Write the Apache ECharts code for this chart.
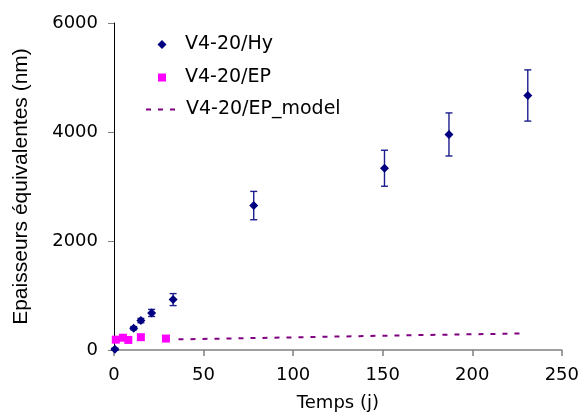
<!DOCTYPE html>
<html><head><meta charset="utf-8">
<script src="https://cdn.jsdelivr.net/npm/echarts@6/dist/echarts.min.js"></script>
<style>html,body{margin:0;padding:0;background:#fff}#c{width:582px;height:417px}</style>
</head><body><div id="c"></div>
<script>
const hyDays = [0.5, 11, 15, 21, 33, 78, 151, 187, 231];
const hyValues = [15, 400, 540, 680, 925, 2650, 3335, 3955, 4670];
const hyErrors = [20, 30, 40, 65, 110, 260, 330, 395, 470];
const epDays = [1, 5, 8, 15, 29];
const epValues = [190, 225, 185, 235, 210];
const modelDays = [36, 100, 160, 230];
const modelValues = [195, 232, 268, 304];
const xTicks = [0, 50, 100, 150, 200, 250];
const yTicks = [0, 2000, 4000, 6000];
const names = ['V4-20/Hy', 'V4-20/EP', 'V4-20/EP_model'];

const NAVY = '#000080', MAG = '#ff00ff', PURP = '#800080';
const F = 'DejaVu Sans';
const chart = echarts.init(document.getElementById('c'), null, {renderer: 'canvas'});
const legendText = (pad) => ({fontFamily: F, fontSize: 19, color: '#000', padding: [0, 0, 0, pad]});
chart.setOption({
  animation: false,
  backgroundColor: '#fff',
  grid: {left: 114, right: 18, top: 23, bottom: 64.3},
  xAxis: {
    type: 'value', min: xTicks[0], max: xTicks[xTicks.length - 1], interval: 50,
    name: 'Temps (j)', nameLocation: 'middle', nameGap: 44,
    nameTextStyle: {fontFamily: F, fontSize: 18, color: '#000'},
    axisLine: {show: true, onZero: false, lineStyle: {color: '#808080', width: 1.5}},
    axisTick: {show: true, inside: false, length: 6, lineStyle: {color: '#808080', width: 1.5}},
    axisLabel: {margin: 16, fontFamily: F, fontSize: 18, color: '#000', formatter: v => String(v)},
    splitLine: {show: false}
  },
  yAxis: {
    type: 'value', min: yTicks[0], max: yTicks[yTicks.length - 1], interval: 2000,
    name: 'Epaisseurs équivalentes (nm)', nameLocation: 'middle', nameGap: 82, nameRotate: 90,
    nameTextStyle: {fontFamily: 'Liberation Sans', fontSize: 21, color: '#000'},
    axisLine: {show: true, onZero: false, lineStyle: {color: '#000', width: 1}},
    axisTick: {show: true, inside: false, length: 6, lineStyle: {color: '#808080', width: 1}},
    axisLabel: {margin: 16, fontFamily: F, fontSize: 18, color: '#000', formatter: v => String(v)},
    splitLine: {show: false}
  },
  legend: [
    {data: [{name: names[0], icon: 'diamond'}], left: 157.5, top: 35, padding: 0, itemWidth: 9, itemHeight: 9,
     textStyle: legendText(13.5), selectedMode: false},
    {data: [{name: names[1], icon: 'rect'}], left: 158, top: 68, padding: 0, itemWidth: 8, itemHeight: 8,
     textStyle: legendText(14), selectedMode: false},
    {data: [{name: names[2], itemStyle: {color: 'rgba(0,0,0,0)', borderWidth: 0}}], left: 145, top: 100, padding: 0,
     itemWidth: 31, itemHeight: 10, textStyle: legendText(4), selectedMode: false}
  ],
  series: [
    {
      type: 'custom', name: 'err', silent: true, z: 1,
      data: hyDays.map((d, i) => [d, hyValues[i] - hyErrors[i], hyValues[i] + hyErrors[i]]),
      encode: {x: 0, y: [1, 2]},
      renderItem: (params, api) => {
        const x = api.value(0);
        const lo = api.coord([x, api.value(1)]);
        const hi = api.coord([x, api.value(2)]);
        const w = 3.5;
        const st = {stroke: '#1c1c8c', lineWidth: 1.4};
        return {type: 'group', children: [
          {type: 'line', shape: {x1: lo[0], y1: lo[1], x2: hi[0], y2: hi[1]}, style: st},
          {type: 'line', shape: {x1: lo[0] - w, y1: lo[1], x2: lo[0] + w, y2: lo[1]}, style: st},
          {type: 'line', shape: {x1: hi[0] - w, y1: hi[1], x2: hi[0] + w, y2: hi[1]}, style: st}
        ]};
      }
    },
    {
      type: 'line', name: names[2], data: modelDays.map((d, i) => [d, modelValues[i]]),
      symbol: 'none', smooth: false, z: 2,
      lineStyle: {color: PURP, width: 2, type: [5, 7]}, itemStyle: {color: PURP}
    },
    {
      type: 'scatter', name: names[1], data: epDays.map((d, i) => [d, epValues[i]]),
      symbol: 'rect', symbolSize: 8, z: 3, itemStyle: {color: MAG, opacity: 1}
    },
    {
      type: 'scatter', name: names[0], data: hyDays.map((d, i) => [d, hyValues[i]]),
      symbol: 'diamond', symbolSize: 9, z: 4, itemStyle: {color: NAVY, opacity: 1}
    }
  ]
});
</script></body></html>
